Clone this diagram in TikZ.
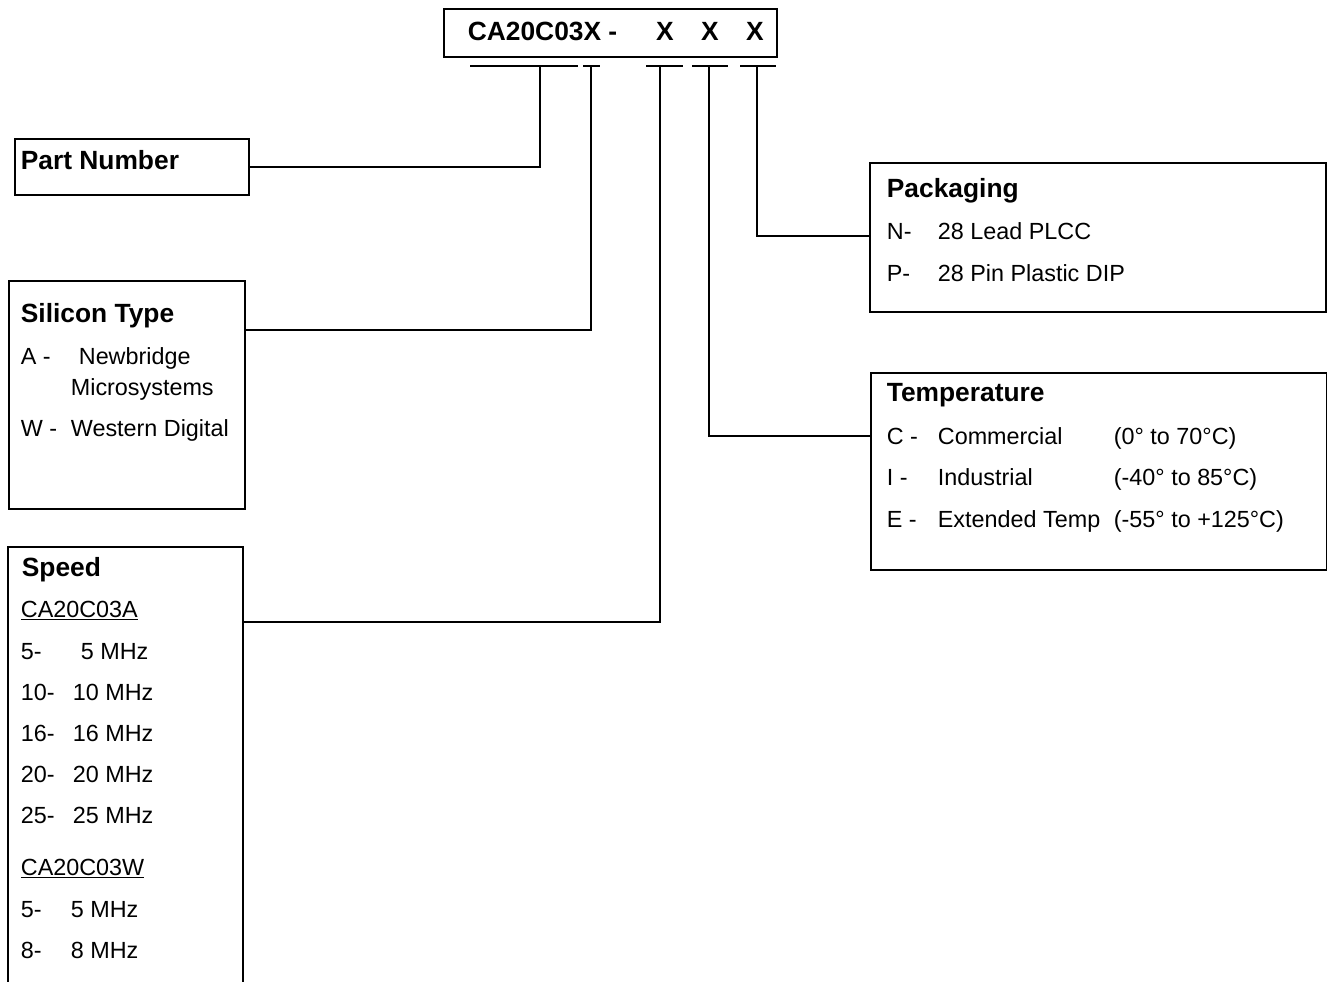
\documentclass[tikz,border=0pt]{standalone}
\usepackage{fontspec}
\setmainfont{Liberation Sans}
\usepackage{tikz}

\begin{document}
\begin{tikzpicture}[x=0.02cm, y=-0.02cm, line width=1pt,
        box/.style={draw, anchor=north west, inner sep=0pt},
        head/.style={anchor=base west, inner sep=0pt, font=\fontsize{15}{18}\selectfont\bfseries},
        item/.style={anchor=base west, inner sep=0pt, font=\fontsize{13.3}{16}\selectfont}]
        \useasboundingbox (0,0) rectangle (1327,981);

        % the part code at the top
        \node[box, minimum width=6.66cm, minimum height=0.96cm] (code) at (443,8) {};
        \node[head] (cname) at (467,40) {CA20C03X -};
        \node[head, anchor=base] (xspeed) at (665,40) {X};
        \node[head, anchor=base] (xtemp) at (710,40) {X};
        \node[head, anchor=base] (xpack) at (755,40) {X};

        % the bars under the code, with a tap point on each
        \draw (470,66) -- (578,66);
        \draw (583,66) -- (600,66);
        \draw (646,66) -- (683,66);
        \draw (692,66) -- (728,66);
        \draw (740,66) -- (776,66);
        \coordinate (tpart) at (540,66);
        \coordinate (tsil) at (591,66);
        \coordinate (tspeed) at (660,66);
        \coordinate (ttemp) at (709,66);
        \coordinate (tpack) at (757,66);

        % draw the boxes
        \node[box, minimum width=4.68cm, minimum height=1.12cm] (part) at (14,138) {};
        \node[box, minimum width=4.72cm, minimum height=4.56cm] (sil) at (8,280) {};
        \node[box, draw=none, minimum width=4.66cm, minimum height=8.68cm] (speed) at (8,547) {};
        \draw (speed.south west) -- (speed.north west) -- (speed.north east) -- (speed.south east);
        \node[box, minimum width=9.12cm, minimum height=2.98cm] (pack) at (869,162) {};
        \node[box, minimum width=9.12cm, minimum height=3.94cm] (temp) at (870,372) {};

        % the texts
        \node[head] (partT) at (20,169) {Part Number};

        \node[head] (silT) at (20,322) {Silicon Type};
        \node[item] (silA) at (20,364) {A -};
        \node[item] (silA1) at (78,364) {Newbridge};
        \node[item] (silA2) at (70,395) {Microsystems};
        \node[item] (silW) at (20,436) {W -};
        \node[item] (silW1) at (70,436) {Western Digital};

        \node[head] (speedT) at (21,576) {Speed};
        \node[item] (spA) at (20,617) {\underline{CA20C03A}};
        \node[item] (spA5) at (20,659) {5-};
        \node[item] (spA5v) at (80,659) {5 MHz};
        \node[item] (spA10) at (20,700) {10-};
        \node[item] (spA10v) at (72,700) {10 MHz};
        \node[item] (spA16) at (20,741) {16-};
        \node[item] (spA16v) at (72,741) {16 MHz};
        \node[item] (spA20) at (20,782) {20-};
        \node[item] (spA20v) at (72,782) {20 MHz};
        \node[item] (spA25) at (20,823) {25-};
        \node[item] (spA25v) at (72,823) {25 MHz};
        \node[item] (spW) at (20,875) {\underline{CA20C03W}};
        \node[item] (spW5) at (20,917) {5-};
        \node[item] (spW5v) at (70,917) {5 MHz};
        \node[item] (spW8) at (20,958) {8-};
        \node[item] (spW8v) at (70,958) {8 MHz};

        \node[head] (packT) at (886,197) {Packaging};
        \node[item] (packN) at (886,239) {N-};
        \node[item] (packN1) at (937,239) {28 Lead PLCC};
        \node[item] (packP) at (886,281) {P-};
        \node[item] (packP1) at (937,281) {28 Pin Plastic DIP};

        \node[head] (tempT) at (886,401) {Temperature};
        \node[item] (tempC) at (886,444) {C -};
        \node[item] (tempC1) at (937,444) {Commercial};
        \node[item] (tempC2) at (1113,444) {(0° to 70°C)};
        \node[item] (tempI) at (886,485) {I -};
        \node[item] (tempI1) at (937,485) {Industrial};
        \node[item] (tempI2) at (1113,485) {(-40° to 85°C)};
        \node[item] (tempE) at (886,527) {E -};
        \node[item] (tempE1) at (937,527) {Extended Temp};
        \node[item] (tempE2) at (1113,527) {(-55° to +125°C)};

        % draw the connectors
        \draw (part.east) -| (tpart);
        \draw ([yshift=-1cm]sil.north east) -| (tsil);
        \draw ([yshift=-1.5cm]speed.north east) -| (tspeed);
        \draw ([yshift=-1.28cm]temp.north west) -| (ttemp);
        \draw ([yshift=-1.48cm]pack.north west) -| (tpack);

    \end{tikzpicture}
\end{document}
